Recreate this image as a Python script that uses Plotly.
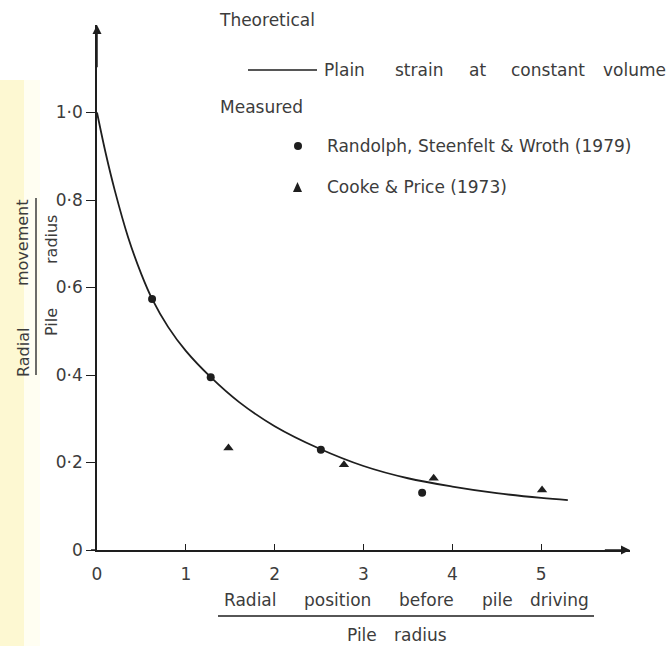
import plotly.graph_objects as go

# ---- data ----
curve_x = [0.0, 0.1, 0.2, 0.35, 0.5, 0.62, 0.8, 1.0, 1.28, 1.6, 2.0, 2.5, 3.0, 3.5, 4.0, 4.5, 5.0, 5.3]
curve_y = [1.0, 0.905, 0.822, 0.715, 0.630, 0.574, 0.51, 0.455, 0.395, 0.338, 0.283, 0.232, 0.192,
           0.164, 0.145, 0.130, 0.119, 0.114]

randolph_x = [0.62, 1.28, 2.52, 3.66]
randolph_y = [0.574, 0.395, 0.229, 0.131]

cooke_x = [1.48, 2.78, 3.79, 5.01]
cooke_y = [0.233, 0.195, 0.164, 0.137]

x_tickvals = [0, 1, 2, 3, 4, 5]
x_ticktext = ["0", "1", "2", "3", "4", "5"]
y_tickvals = [0, 0.2, 0.4, 0.6, 0.8, 1.0]
y_ticktext = ["0", "0\u00b72", "0\u00b74", "0\u00b76", "0\u00b78", "1\u00b70"]

# ---- layout geometry ----
W, H = 668, 646
ML, MR, MT, MB = 97, 38, 25, 96
PW, PH = W - ML - MR, H - MT - MB
INK = "#1e1e1e"
TXT = "#3c3c3c"
FONT = "DejaVu Sans"


def px(x):
    return (x - ML) / PW


def py(y):
    return (H - MB - y) / PH


fig = go.Figure()
fig.add_trace(go.Scatter(x=curve_x, y=curve_y, mode="lines",
                         line=dict(color=INK, width=1.8, shape="spline", smoothing=1.0),
                         showlegend=False, hoverinfo="skip", cliponaxis=False))
fig.add_trace(go.Scatter(x=randolph_x, y=randolph_y, mode="markers",
                         marker=dict(symbol="circle", size=8, color=INK),
                         showlegend=False, cliponaxis=False))
fig.add_trace(go.Scatter(x=cooke_x, y=cooke_y, mode="markers",
                         marker=dict(symbol="triangle-up", size=9, color=INK),
                         showlegend=False, cliponaxis=False))

annotations = []
shapes = []


def text(s, x, y, size=17, xanchor="left", angle=0):
    annotations.append(dict(text=s, x=px(x), y=py(y), xref="paper", yref="paper",
                            xanchor=xanchor, yanchor="middle", showarrow=False,
                            textangle=angle,
                            font=dict(family=FONT, size=size, color=TXT)))


# scanned-page yellow strip at left edge
shapes.append(dict(type="rect", xref="paper", yref="paper", x0=px(0), x1=px(40),
                   y0=py(646), y1=py(80), fillcolor="#fffef2", line=dict(width=0),
                   layer="below"))
shapes.append(dict(type="rect", xref="paper", yref="paper", x0=px(0), x1=px(24),
                   y0=py(646), y1=py(80), fillcolor="#fdf8d2", line=dict(width=0),
                   layer="below"))

# legend block
text("Theoretical", 217, 20)
shapes.append(dict(type="line", xref="paper", yref="paper", x0=px(248), x1=px(317),
                   y0=py(70), y1=py(70), line=dict(color=INK, width=1.5)))
for w, x in [("Plain", 322), ("strain", 393), ("at", 467), ("constant", 509), ("volume", 601)]:
    text(w, x, 70)
text("Measured", 218, 107)
shapes.append(dict(type="circle", xref="paper", yref="paper", x0=px(294), x1=px(302),
                   y0=py(150), y1=py(142), fillcolor=INK, line=dict(color=INK, width=0)))
shapes.append(dict(type="path", xref="paper", yref="paper",
                   path=f"M {px(293)} {py(192)} L {px(302)} {py(192)} L {px(297.5)} {py(182)} Z",
                   fillcolor=INK, line=dict(color=INK, width=0)))
text("Randolph, Steenfelt & Wroth (1979)", 325, 146)
text("Cooke & Price (1973)", 325, 187)

# x-axis title (fraction)
for w, x in [("Radial", 222), ("position", 302), ("before", 397), ("pile", 480), ("driving", 528)]:
    text(w, x, 600)
shapes.append(dict(type="line", xref="paper", yref="paper", x0=px(218), x1=px(594),
                   y0=py(616), y1=py(616), line=dict(color=INK, width=1.3)))
text("Pile", 345, 635)
text("radius", 392, 635)

# y-axis title (fraction, rotated)
text("Radial", 23, 353, size=16, xanchor="center", angle=-90)
text("movement", 23, 243, size=16, xanchor="center", angle=-90)
shapes.append(dict(type="line", xref="paper", yref="paper", x0=px(36), x1=px(36),
                   y0=py(198), y1=py(375), line=dict(color=INK, width=1.3)))
text("radius", 51, 240, size=16, xanchor="center", angle=-90)
text("Pile", 51, 322, size=16, xanchor="center", angle=-90)

# axis arrows
annotations.append(dict(x=6.0, y=0, ax=5.7, ay=0, xref="x", yref="y", axref="x", ayref="y",
                        showarrow=True, arrowhead=2, arrowsize=1.2, arrowwidth=1.5,
                        arrowcolor=INK, text=""))
annotations.append(dict(x=0, y=1.2, ax=0, ay=1.1, xref="x", yref="y", axref="x", ayref="y",
                        showarrow=True, arrowhead=2, arrowsize=1.2, arrowwidth=1.5,
                        arrowcolor=INK, text=""))
# small overhang of x-axis left of origin
shapes.append(dict(type="line", xref="paper", yref="paper", x0=px(91), x1=0,
                   y0=0, y1=0, line=dict(color=INK, width=1.5)))

fig.update_layout(
    width=W, height=H,
    margin=dict(l=ML, r=MR, t=MT, b=MB, pad=0),
    paper_bgcolor="white", plot_bgcolor="rgba(0,0,0,0)",
    showlegend=False,
    annotations=annotations, shapes=shapes,
    xaxis=dict(range=[0, 6.0], showgrid=False, zeroline=False, showline=True,
               linecolor=INK, linewidth=1.5, ticks="inside", ticklen=6, tickwidth=1.3,
               tickcolor=INK, tickvals=x_tickvals, ticktext=x_ticktext,
               ticklabelstandoff=8,
               tickfont=dict(family=FONT, size=17, color=TXT)),
    yaxis=dict(range=[0, 1.2], showgrid=False, zeroline=False, showline=True,
               linecolor=INK, linewidth=1.5, ticks="outside", ticklen=9, tickwidth=1.3,
               tickcolor=INK, tickvals=y_tickvals, ticktext=y_ticktext,
               tickfont=dict(family=FONT, size=17, color=TXT)),
)

fig.write_html("out.html")
